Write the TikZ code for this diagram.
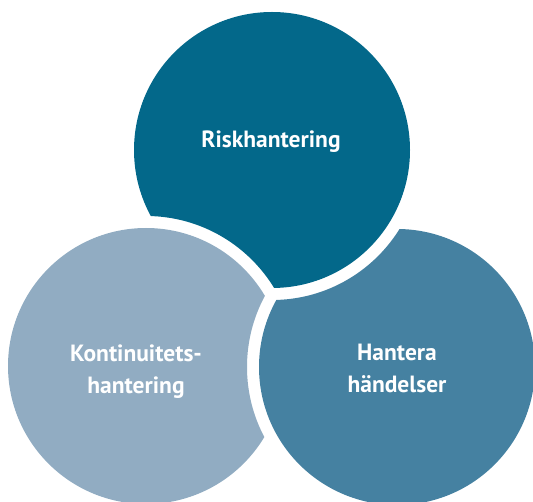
\documentclass[tikz,border=0pt]{standalone}
\usepackage{fontspec}
\setmainfont{PT Sans}
\definecolor{topc}{HTML}{03688A}
\definecolor{leftc}{HTML}{91ACC2}
\definecolor{rightc}{HTML}{4581A1}
\begin{document}
\begin{tikzpicture}[x=1pt,y=-1pt,
  lab/.style={text=white,font=\bfseries\fontsize{23.5}{32}\selectfont,align=center,inner sep=0pt}]
\useasboundingbox (0,0) rectangle (533,502);
\def\rr{138}
\def\ro{150}
\coordinate (T) at (272,150);
\coordinate (L) at (146,366);
\coordinate (R) at (397,367);
% top circle, cut by left ring
\begin{scope}[even odd rule]
  \clip (-10,-10) rectangle (543,512) (L) circle (\ro);
  \fill[topc] (T) circle (\rr);
\end{scope}
% right circle, cut by top ring
\begin{scope}[even odd rule]
  \clip (-10,-10) rectangle (543,512) (T) circle (\ro);
  \fill[rightc] (R) circle (\rr);
\end{scope}
% left circle, cut by right ring
\begin{scope}[even odd rule]
  \clip (-10,-10) rectangle (543,512) (R) circle (\ro);
  \fill[leftc] (L) circle (\rr);
\end{scope}
\node[lab,anchor=base] (risk) at (271,148) {Riskhantering};
\node[lab] (kont) at (136,372) {Kontinuitets-\\hantering};
\node[lab] (hant) at (397,368) {Hantera\\händelser};
\end{tikzpicture}
\end{document}
